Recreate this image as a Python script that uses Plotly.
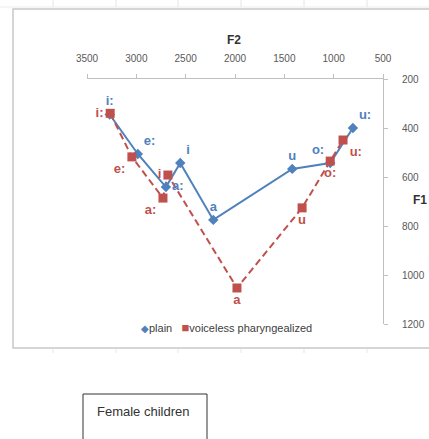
import plotly.graph_objects as go

vowels = ["i:", "e:", "a:", "i", "a", "u", "o:", "u:"]
plain_f2 = [3270, 2985, 2700, 2555, 2220, 1420, 1035, 805]
plain_f1 = [345, 506, 641, 543, 775, 567, 543, 400]
phar_f2 = [3265, 3045, 2730, 2680, 1980, 1320, 1035, 905]
phar_f1 = [340, 518, 686, 592, 1053, 726, 535, 449]

x_ticks = [3500, 3000, 2500, 2000, 1500, 1000, 500]
y_ticks = [200, 400, 600, 800, 1000, 1200]

series_names = ["plain", "voiceless pharyngealized"]

plain_pos = ["top center", "top right", "middle right", "top right",
             "top center", "top center", "top left", "top right"]
phar_pos = ["middle left", "bottom left", "bottom left", "middle left",
            "bottom center", "bottom center", "bottom center", "bottom right"]

BLUE = "#4F81BD"
RED = "#C0504D"
W, H = 429, 439
SANS = "Liberation Sans, Arial, sans-serif"


def px(x):
    return x / W


def py(y):
    return 1 - y / H


fig = go.Figure()
fig.add_trace(go.Scatter(x=plain_f2, y=plain_f1, mode="lines",
                         line=dict(color=BLUE, width=2), showlegend=False,
                         hoverinfo="skip"))
fig.add_trace(go.Scatter(x=phar_f2, y=phar_f1, mode="lines",
                         line=dict(color=RED, width=2, dash="7px,4px"),
                         showlegend=False, hoverinfo="skip"))
fig.add_trace(go.Scatter(x=plain_f2, y=plain_f1, mode="markers+text",
                         name=series_names[0], text=vowels,
                         textposition=plain_pos, showlegend=False,
                         marker=dict(symbol="diamond", size=8, color=BLUE),
                         textfont=dict(color=BLUE, size=13, weight="bold",
                                       family=SANS)))
fig.add_trace(go.Scatter(x=phar_f2, y=phar_f1, mode="markers+text",
                         name=series_names[1], text=vowels,
                         textposition=phar_pos, showlegend=False,
                         marker=dict(symbol="square", size=9, color=RED),
                         textfont=dict(color=RED, size=13, weight="bold",
                                       family=SANS)))

tickfont = dict(size=10, color="#595959", family=SANS)

# faint spreadsheet cell borders around the embedded chart
grid_shapes = [dict(type="line", xref="paper", yref="paper", x0=0, x1=1,
                    y0=py(7), y1=py(7),
                    line=dict(color="#ececec", width=1), layer="below")]
for gx in [53, 116, 178, 241, 304, 367]:
    grid_shapes.append(dict(type="line", xref="paper", yref="paper",
                            x0=px(gx), x1=px(gx), y0=1, y1=py(7),
                            line=dict(color="#e6e6e6", width=1), layer="below"))
    grid_shapes.append(dict(type="line", xref="paper", yref="paper",
                            x0=px(gx), x1=px(gx), y0=py(349), y1=py(353),
                            line=dict(color="#e6e6e6", width=1), layer="below"))

fig.update_layout(
    width=W, height=H, margin=dict(l=0, r=0, t=0, b=0, autoexpand=False),
    paper_bgcolor="white", plot_bgcolor="white",
    font=dict(family=SANS),
    xaxis=dict(domain=[px(87), px(383)], range=[3500, 500], side="top",
               tickvals=x_ticks, ticks="outside", ticklen=4,
               tickcolor="#bfbfbf", showline=True, linecolor="#bfbfbf",
               linewidth=1, showgrid=False, zeroline=False, automargin=False,
               tickfont=tickfont, ticklabelstandoff=8),
    yaxis=dict(domain=[py(324), py(79)], range=[1200, 200],
               side="right", tickvals=y_ticks, ticks="outside", ticklen=4,
               tickcolor="#bfbfbf", showline=True, linecolor="#bfbfbf",
               linewidth=1, showgrid=False, zeroline=False, automargin=False,
               tickfont=tickfont, ticklabelstandoff=12),
    showlegend=False,
    shapes=grid_shapes + [
        dict(type="rect", xref="paper", yref="paper", x0=px(13), x1=1.05,
             y0=py(348), y1=py(9),
             line=dict(color="#c8c8c8", width=1.5), layer="below"),
        dict(type="rect", xref="paper", yref="paper", x0=px(83), x1=px(207),
             y0=-0.1, y1=py(394), line=dict(color="#333333", width=1)),
    ],
    annotations=[
        dict(text="<b>F2</b>", x=px(234), y=py(40), xref="paper",
             yref="paper", xanchor="center", yanchor="middle",
             showarrow=False, font=dict(size=12, color="#333333")),
        dict(text="<b>F1</b>", x=px(420), y=py(200), xref="paper",
             yref="paper", xanchor="center", yanchor="middle",
             showarrow=False, font=dict(size=12, color="#333333")),
        dict(text=("<span style='color:%s;font-size:10px'>◆</span>%s   "
                   "<span style='color:%s;font-size:13px'>■</span>%s")
             % (BLUE, series_names[0], RED, series_names[1]),
             x=px(139), y=py(327), xref="paper", yref="paper",
             xanchor="left", yanchor="middle", showarrow=False,
             font=dict(size=11, color="#404040", family=SANS)),
        dict(text="Female children", x=px(95), y=py(411), xref="paper",
             yref="paper", xanchor="left", yanchor="middle", showarrow=False,
             font=dict(size=13, color="#333333", family=SANS)),
    ],
)

fig.write_html("out.html")
